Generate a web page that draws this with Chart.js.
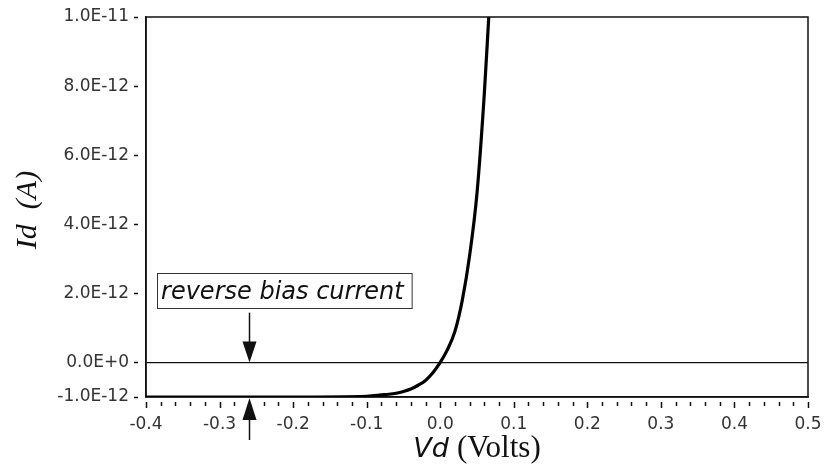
<!DOCTYPE html>
<html>
<head>
<meta charset="utf-8">
<script src="https://cdn.jsdelivr.net/npm/chart.js@4/dist/chart.umd.min.js"></script>
<style>
  body { margin: 0; background: #fff; }
  #wrap { width: 828px; height: 473px; }
</style>
</head>
<body>
<div id="wrap"><canvas id="diodeChart"></canvas></div>
<script>
// Dane: napięcie diody (V) i prąd (A)
const voltage = [-0.4, -0.3, -0.2, -0.1, -0.09, -0.08, -0.07, -0.06, -0.05, -0.04, -0.03, -0.02, -0.01, 0.0, 0.01, 0.02, 0.03, 0.04, 0.05, 0.06, 0.066];
const current = [-1.0e-12, -1.0e-12, -1.0e-12, -0.98e-12, -0.96e-12, -0.94e-12, -0.92e-12, -0.89e-12, -0.84e-12, -0.77e-12, -0.66e-12, -0.52e-12, -0.3e-12, 0.0, 0.38e-12, 0.9e-12, 1.8e-12, 3.1e-12, 4.9e-12, 7.8e-12, 10.0e-12];

// Podziałki osi
const yTicks = [-1.0e-12, 0.0, 2.0e-12, 4.0e-12, 6.0e-12, 8.0e-12, 1.0e-11];
const xMin = -0.4, xMax = 0.5;

// Adnotacja
const noteText = 'reverse bias current';
const noteV = -0.385, noteI = 2.6e-12;
const arrowV = -0.26;

const tickFont = { family: 'DejaVu Sans', size: 17 };

// Ramka wokół obszaru wykresu
const framePlugin = {
    id: 'frame',
    beforeDatasetsDraw(chart) {
        const { ctx, chartArea: a } = chart;
        ctx.save();
        ctx.strokeStyle = '#111';
        ctx.lineWidth = 1.5;
        ctx.strokeRect(a.left, a.top, a.right - a.left, a.bottom - a.top);
        ctx.restore();
    }
};

// Kreski podziałki (główne i pomocnicze), tytuły osi i adnotacja
const extrasPlugin = {
    id: 'extras',
    afterDraw(chart) {
        const { ctx, chartArea: a } = chart;
        const xs = chart.scales.x, ys = chart.scales.y;
        ctx.save();
        ctx.strokeStyle = '#111';
        ctx.lineWidth = 1.5;

        // kreski osi X
        xs.ticks.forEach(t => {
            const px = Math.round(xs.getPixelForValue(t.value)) + 0.5;
            const major = Math.abs(Math.round(t.value * 10) - t.value * 10) < 1e-6;
            ctx.beginPath();
            ctx.moveTo(px, a.bottom + 5);
            ctx.lineTo(px, a.bottom + (major ? 11 : 9));
            ctx.stroke();
        });
        // kreski osi Y
        ys.ticks.forEach(t => {
            const py = Math.round(ys.getPixelForValue(t.value)) + 0.5;
            ctx.beginPath();
            ctx.moveTo(a.left - 12, py);
            ctx.lineTo(a.left - 8, py);
            ctx.stroke();
        });

        // tytuł osi Y
        ctx.fillStyle = '#111';
        ctx.save();
        ctx.translate(36, (a.top + a.bottom) / 2 + 3);
        ctx.rotate(-Math.PI / 2);
        ctx.textAlign = 'center';
        ctx.textBaseline = 'alphabetic';
        ctx.font = 'italic 30px "Liberation Serif"';
        ctx.fillText('Id  (A)', 0, 0);
        ctx.restore();

        // tytuł osi X
        ctx.textBaseline = 'alphabetic';
        ctx.textAlign = 'left';
        const partA = 'Vd', partB = '(Volts)';
        ctx.font = 'italic 27px "DejaVu Sans"';
        const wA = ctx.measureText(partA).width;
        ctx.font = '31px "Liberation Serif"';
        const wB = ctx.measureText(partB).width;
        const gap = 8;
        let sx = (a.left + a.right) / 2 - (wA + gap + wB) / 2;
        ctx.font = 'italic 27px "DejaVu Sans"';
        ctx.fillText(partA, sx, 457);
        ctx.font = '31px "Liberation Serif"';
        ctx.fillText(partB, sx + wA + gap, 457);

        // ramka z opisem
        ctx.font = 'italic 24px "DejaVu Sans"';
        const bx = xs.getPixelForValue(noteV);
        const by = ys.getPixelForValue(noteI);
        const tw = ctx.measureText(noteText).width;
        const bw = tw + 12, bh = 35;
        ctx.fillStyle = '#fff';
        ctx.fillRect(bx, by, bw, bh);
        ctx.lineWidth = 1;
        ctx.strokeStyle = '#333';
        ctx.strokeRect(Math.round(bx) + 0.5, Math.round(by) + 0.5, bw, bh);
        ctx.fillStyle = '#111';
        ctx.fillText(noteText, bx + 4, by + 26);

        // strzałki
        const ax = Math.round(xs.getPixelForValue(arrowV)) + 0.5;
        const y0 = ys.getPixelForValue(0);
        const yb = ys.getPixelForValue(-1e-12);
        ctx.strokeStyle = '#111';
        ctx.fillStyle = '#111';
        ctx.lineWidth = 1.5;
        ctx.beginPath();
        ctx.moveTo(ax, by + bh + 5);
        ctx.lineTo(ax, y0 - 10);
        ctx.stroke();
        ctx.beginPath();
        ctx.moveTo(ax, y0);
        ctx.lineTo(ax - 7, y0 - 21);
        ctx.lineTo(ax + 7, y0 - 21);
        ctx.closePath();
        ctx.fill();

        ctx.beginPath();
        ctx.moveTo(ax, yb + 10);
        ctx.lineTo(ax, yb + 43);
        ctx.stroke();
        ctx.beginPath();
        ctx.moveTo(ax, yb + 1);
        ctx.lineTo(ax - 7, yb + 23);
        ctx.lineTo(ax + 7, yb + 23);
        ctx.closePath();
        ctx.fill();

        ctx.restore();
    }
};

const ctx = document.getElementById('diodeChart').getContext('2d');
new Chart(ctx, {
    type: 'line',
    data: {
        datasets: [{
            data: voltage.map((v, i) => ({ x: v, y: current[i] })),
            borderColor: '#000',
            borderWidth: 3.2,
            pointRadius: 0,
            cubicInterpolationMode: 'monotone',
            fill: false
        }]
    },
    options: {
        responsive: true,
        maintainAspectRatio: false,
        animation: false,
        layout: { padding: { top: 17, right: 20, bottom: 0, left: 0 } },
        plugins: {
            legend: { display: false },
            tooltip: { enabled: false }
        },
        scales: {
            x: {
                type: 'linear',
                min: xMin,
                max: xMax,
                afterFit: s => { s.height = 76; s.paddingLeft = 0; s.paddingRight = 0; },
                border: { display: true, color: '#111', width: 1.5 },
                grid: { drawOnChartArea: false, drawTicks: false },
                ticks: {
                    stepSize: 0.02,
                    autoSkip: false,
                    maxRotation: 0,
                    padding: 17,
                    color: '#333',
                    font: tickFont,
                    callback: v => (Math.abs(Math.round(v * 10) - v * 10) < 1e-6 ? v.toFixed(1) : '')
                }
            },
            y: {
                min: -1.0e-12,
                max: 1.0e-11,
                afterFit: s => { s.width = 146; s.paddingTop = 0; s.paddingBottom = 0; },
                afterBuildTicks: s => { s.ticks = yTicks.map(v => ({ value: v })); },
                border: { display: true, color: '#111', width: 1.5 },
                grid: {
                    drawTicks: false,
                    color: c => (c.tick && c.tick.value === 0 ? '#111' : 'rgba(0,0,0,0)'),
                    lineWidth: 1.2
                },
                ticks: {
                    padding: 17,
                    color: '#333',
                    font: tickFont,
                    callback: v => v.toExponential(1).toUpperCase()
                }
            }
        }
    },
    plugins: [framePlugin, extrasPlugin]
});
</script>
</body>
</html>
